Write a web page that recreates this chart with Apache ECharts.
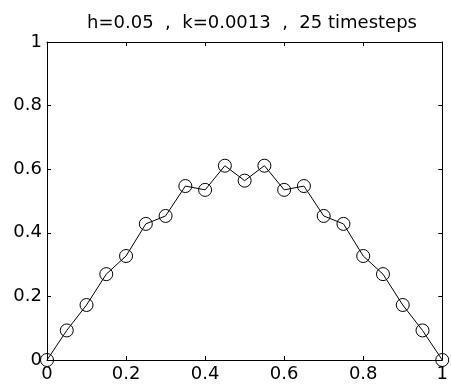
<!DOCTYPE html>
<html><head><meta charset="utf-8">
<script src="https://cdn.jsdelivr.net/npm/echarts@6/dist/echarts.min.js"></script>
<style>html,body{margin:0;padding:0;background:#fff}#c{width:451px;height:387px}</style>
</head><body><div id="c"></div>
<script>
const titleText = 'h=0.05  ,  k=0.0013  ,  25 timesteps';
const xValues = [0,0.05,0.1,0.15,0.2,0.25,0.3,0.35,0.4,0.45,0.5,0.55,0.6,0.65,0.7,0.75,0.8,0.85,0.9,0.95,1];
const uValues = [0,0.093,0.173,0.270,0.327,0.428,0.453,0.547,0.535,0.611,0.564,0.611,0.535,0.547,0.453,0.428,0.327,0.270,0.173,0.093,0];
const xTicks = [0,0.2,0.4,0.6,0.8,1];
const yTicks = [0,0.2,0.4,0.6,0.8,1];

const font = 'DejaVu Sans, Liberation Sans, Arial, sans-serif';
const chart = echarts.init(document.getElementById('c'), null, {renderer:'canvas'});
const lineStyle = {color:'#000', width:1};
const baseAxis = (pos, show, ticks) => ({
  type:'value', position:pos, min:ticks[0], max:ticks[ticks.length-1], interval:ticks[1]-ticks[0],
  axisLine:{show:true, onZero:false, lineStyle},
  axisTick:{show:true, inside:true, length:4, lineStyle},
  axisLabel:{show:show, color:'#000', fontSize:18, fontFamily:font, margin:5},
  splitLine:{show:false}
});
chart.setOption({
  animation:false,
  backgroundColor:'#fff',
  title:{text:titleText, left:247, top:9, textAlign:'center',
    textStyle:{fontSize:18, fontWeight:'normal', color:'#000', fontFamily:font}},
  grid:{left:47, right:4, top:42, bottom:27, containLabel:false},
  xAxis:[baseAxis('bottom', true, xTicks), baseAxis('top', false, xTicks)],
  yAxis:[baseAxis('left', true, yTicks), baseAxis('right', false, yTicks)],
  series:[{
    type:'line', xAxisIndex:0, yAxisIndex:0,
    data:xValues.map((x,i)=>[x,uValues[i]]),
    symbol:'circle', symbolSize:13, clip:false,
    lineStyle:{color:'#000', width:1},
    itemStyle:{color:'rgba(0,0,0,0)', borderColor:'#000', borderWidth:1}
  }]
});
</script></body></html>
